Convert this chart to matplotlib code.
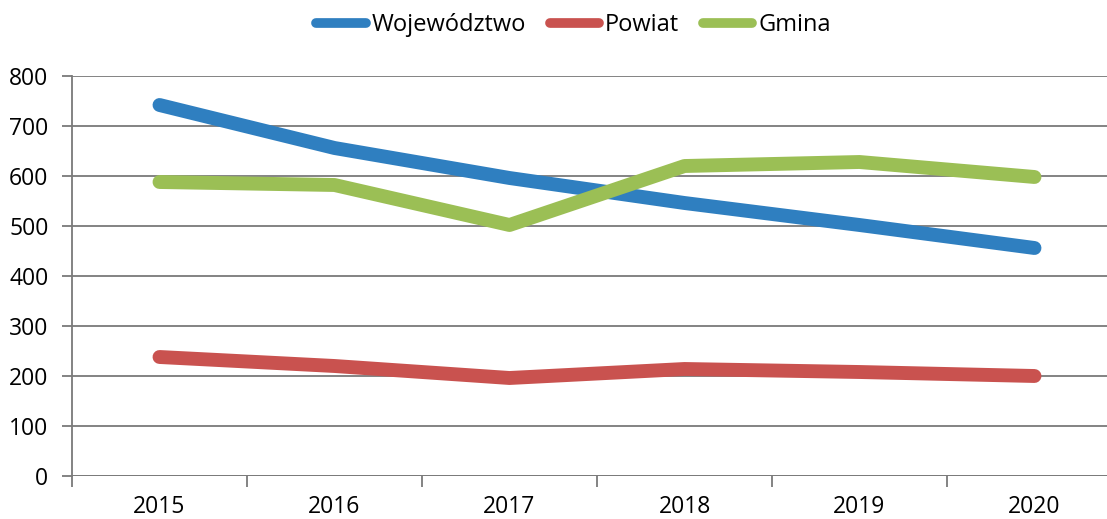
import matplotlib.pyplot as plt
import numpy as np

plt.rcParams['font.family'] = ['Open Sans', 'DejaVu Sans']

years = ['2015', '2016', '2017', '2018', '2019', '2020']
wojewodztwo = [742, 656, 596, 546, 502, 456]
powiat = [238, 220, 196, 214, 208, 200]
gmina = [588, 582, 502, 620, 628, 598]

series = [
    ('Województwo', wojewodztwo, '#2f7fc0'),
    ('Powiat', powiat, '#c9524f'),
    ('Gmina', gmina, '#9bbf55'),
]

fig = plt.figure(figsize=(11.07, 5.19), dpi=100)
# axes run past the right edge of the picture, as in the original scan
ax = fig.add_axes([72 / 1107, 43 / 519, 1050 / 1107, 400 / 519])

x = np.arange(len(years))
for name, vals, color in series:
    ax.plot(x, vals, color=color, lw=10, solid_capstyle='round',
            solid_joinstyle='round', label=name, zorder=3)

ax.set_xlim(-0.5, len(years) - 0.5)
ax.set_ylim(0, 800)
ax.set_yticks(range(0, 801, 100))
ax.set_xticks(x)
ax.set_xticklabels(years)
ax.set_xticks(np.arange(-0.5, len(years), 1.0), minor=True)

ax.grid(axis='y', color='#7a7a7a', lw=1.3, zorder=1)
for side in ['top', 'right', 'bottom']:
    ax.spines[side].set_visible(False)
ax.spines['left'].set_color('#7a7a7a')
ax.spines['left'].set_linewidth(1.3)
ax.axhline(0, color='#7a7a7a', lw=1.3, zorder=2)

ax.tick_params(axis='y', length=7, width=1.3, color='#7a7a7a',
               labelsize=16.5, pad=10)
ax.tick_params(axis='x', which='major', length=0, labelsize=16.5, pad=14)
ax.tick_params(axis='x', which='minor', length=8, width=1.3, color='#7a7a7a')

leg = fig.legend(loc='upper center', bbox_to_anchor=(0.518, 1.015), ncol=3,
                 frameon=False, fontsize=17, handlelength=2.1,
                 handletextpad=0.25, columnspacing=1.0)
for h in leg.get_lines():
    h.set_linewidth(7)

fig.savefig('out.png', dpi=100)
